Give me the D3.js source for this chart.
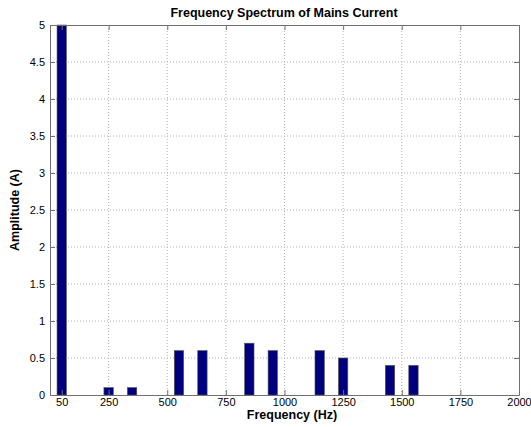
<!DOCTYPE html>
<html>
<head>
<meta charset="utf-8">
<script src="https://cdn.jsdelivr.net/npm/d3@7"></script>
<style>
  body { margin: 0; background: #fff; }
  text { font-family: "Liberation Sans", Arial, sans-serif; }
  .grid line { stroke: #b0b0b0; stroke-dasharray: 1,2; }
</style>
</head>
<body>
<svg id="chart"></svg>
<script>
const WIDTH = 531, HEIGHT = 427;
const margin = {top: 25, right: 12, bottom: 32, left: 50};

// harmonic frequencies (Hz) and amplitudes (A)
const freqs = [50, 250, 350, 550, 650, 850, 950, 1150, 1250, 1450, 1550];
const amps = [5, 0.1, 0.1, 0.6, 0.6, 0.7, 0.6, 0.6, 0.5, 0.4, 0.4];
const xTicks = [50, 250, 500, 750, 1000, 1250, 1500, 1750, 2000];
const yTicks = [0, 0.5, 1, 1.5, 2, 2.5, 3, 3.5, 4, 4.5, 5];
const BAR_W = 40; // Hz

const svg = d3.select("#chart").attr("width", WIDTH).attr("height", HEIGHT);
const w = WIDTH - margin.left - margin.right;
const h = HEIGHT - margin.top - margin.bottom;

const x = d3.scaleLinear().domain([0, 2000]).range([0, w]);
const y = d3.scaleLinear().domain([0, 5]).range([h, 0]);

const g = svg.append("g").attr("transform", `translate(${margin.left},${margin.top})`);

// grid
g.append("g").attr("class", "grid")
    .selectAll("line").data(xTicks.filter(d => d > 50 && d < 2000)).enter()
    .append("line")
    .attr("x1", d => x(d)).attr("x2", d => x(d))
    .attr("y1", 0).attr("y2", h);
g.append("g").attr("class", "grid")
    .selectAll("line").data(yTicks.filter(d => d > 0 && d < 5)).enter()
    .append("line")
    .attr("x1", 0).attr("x2", w)
    .attr("y1", d => y(d)).attr("y2", d => y(d));

// bars
g.selectAll(".bar").data(freqs).enter()
    .append("rect")
    .attr("class", "bar")
    .attr("x", d => x(d - BAR_W / 2))
    .attr("width", x(BAR_W) - x(0))
    .attr("y", (d, i) => y(amps[i]))
    .attr("height", (d, i) => h - y(amps[i]))
    .attr("fill", "#00007f")
    .attr("stroke", "#555")
    .attr("stroke-width", 0.6);

// axes (ticks pointing inward, box on)
const axColor = "#707070";
function styleAxis(sel) {
    sel.select(".domain").attr("stroke", axColor);
    sel.selectAll(".tick line").attr("stroke", axColor);
    sel.selectAll(".tick text").attr("fill", "#000").style("font-size", "11px")
        .style("font-family", "'Liberation Sans', Arial, sans-serif");
}
g.append("g").attr("transform", `translate(0,${h})`)
    .call(d3.axisBottom(x).tickValues(xTicks).tickSizeInner(-5).tickSizeOuter(0).tickPadding(3).tickFormat(d3.format("d")))
    .call(styleAxis);
g.append("g")
    .call(d3.axisLeft(y).tickValues(yTicks).tickSizeInner(-5).tickSizeOuter(0).tickPadding(5).tickFormat(d => d))
    .call(styleAxis);
g.append("g")
    .call(d3.axisTop(x).tickValues(xTicks).tickSizeInner(-5).tickSizeOuter(0).tickFormat(""))
    .call(styleAxis);
g.append("g").attr("transform", `translate(${w},0)`)
    .call(d3.axisRight(y).tickValues(yTicks).tickSizeInner(-5).tickSizeOuter(0).tickFormat(""))
    .call(styleAxis);

// labels
svg.append("text")
    .attr("x", 284).attr("y", 17)
    .attr("text-anchor", "middle")
    .style("font-size", "12.5px").style("font-weight", "bold")
    .text("Frequency Spectrum of Mains Current");
svg.append("text")
    .attr("x", 292).attr("y", 419)
    .attr("text-anchor", "middle")
    .style("font-size", "12.5px").style("font-weight", "bold")
    .text("Frequency (Hz)");
svg.append("text")
    .attr("transform", `translate(19,${margin.top + h / 2}) rotate(-90)`)
    .attr("text-anchor", "middle")
    .style("font-size", "12.5px").style("font-weight", "bold")
    .text("Amplitude (A)");
</script>
</body>
</html>
